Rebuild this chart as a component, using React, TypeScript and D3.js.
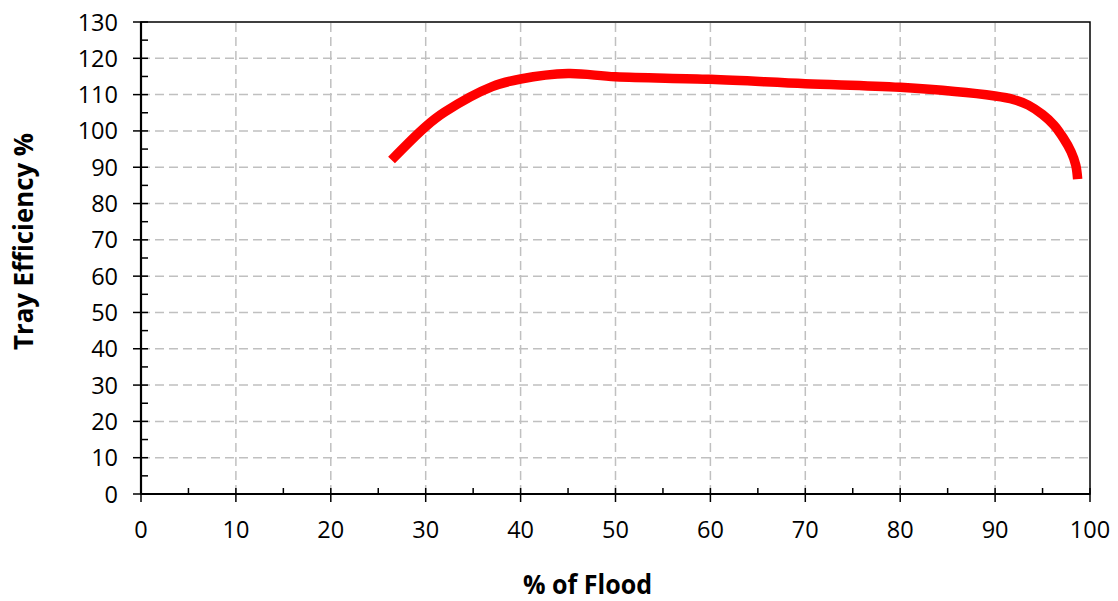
import React from 'react';
import * as d3 from 'd3';

// values
const floodPct = [26.4, 30, 32, 37, 40, 45, 50, 60, 70, 80, 90, 92, 93.5, 95, 96.2, 97.2, 98, 98.5, 98.7];
const trayEff = [92.0, 101.2, 105.2, 112.2, 114.3, 115.8, 114.9, 114.2, 113.0, 112.0, 109.6, 108.6, 107.1, 104.5, 101.6, 98.0, 94.3, 90.6, 86.7];

const xTicks = [0, 10, 20, 30, 40, 50, 60, 70, 80, 90, 100];
const yTicks = [0, 10, 20, 30, 40, 50, 60, 70, 80, 90, 100, 110, 120, 130];

const W = 1118;
const H = 601;
const margin = { top: 22, right: 28, bottom: 107, left: 141 };

const App: React.FC = () => {
  const x = d3.scaleLinear().domain([0, 100]).range([margin.left, W - margin.right]);
  const y = d3.scaleLinear().domain([0, 130]).range([H - margin.bottom, margin.top]);

  const x0 = x(0), x1 = x(100), y0 = y(0), y1 = y(130);

  const pts = floodPct.map((f, i) => [f, trayEff[i]] as [number, number]);
  const line = d3.line<[number, number]>()
    .x(d => x(d[0]))
    .y(d => y(d[1]))
    .curve(d3.curveCatmullRom.alpha(0.5));

  // minor ticks halfway between majors
  const xMinor = xTicks.slice(0, -1).map(t => t + 5);
  const yMinor = yTicks.slice(0, -1).map(t => t + 5);

  const tickFont = { fontFamily: '"Open Sans", sans-serif', fontSize: 23.5, fill: '#000' };
  const titleFont = { fontFamily: '"Open Sans", sans-serif', fontSize: 26, fontWeight: 700, fill: '#000' };

  return (
    <svg width={W} height={H} style={{ position: 'absolute', left: 0, top: 0, background: '#fff' }}>
      {/* grid */}
      <g stroke="#c0c0c0" strokeWidth={1.5} strokeDasharray="9,5">
        {xTicks.filter(t => t > 0 && t < 100).map(t => (
          <line key={'gx' + t} x1={x(t)} x2={x(t)} y1={y0} y2={y1} />
        ))}
        {yTicks.filter(t => t > 0 && t < 130).map(t => (
          <line key={'gy' + t} x1={x0} x2={x1} y1={y(t)} y2={y(t)} />
        ))}
      </g>

      {/* frame */}
      <rect x={x0} y={y1} width={x1 - x0} height={y0 - y1} fill="none" stroke="#000" strokeWidth={1.5} />

      {/* series */}
      <path d={line(pts) || ''} fill="none" stroke="#ff0000" strokeWidth={9.5} strokeLinecap="butt" strokeLinejoin="round" />

      {/* y axis */}
      <line x1={x0} x2={x0} y1={y0} y2={y1} stroke="#000" strokeWidth={2.2} />
      {yTicks.map(t => (
        <g key={'yt' + t}>
          <line x1={x0 - 8} x2={x0 + 7} y1={y(t)} y2={y(t)} stroke="#000" strokeWidth={1.5} />
          <text x={x0 - 23} y={y(t) + 8.5} textAnchor="end" {...tickFont}>{t}</text>
        </g>
      ))}
      {yMinor.map(t => (
        <line key={'ym' + t} x1={x0} x2={x0 + 7} y1={y(t)} y2={y(t)} stroke="#000" strokeWidth={1.5} />
      ))}

      {/* x axis */}
      <line x1={x0} x2={x1} y1={y0} y2={y0} stroke="#000" strokeWidth={2.2} />
      {xTicks.map(t => (
        <g key={'xt' + t}>
          <line x1={x(t)} x2={x(t)} y1={y0 - 6} y2={y0 + 8} stroke="#000" strokeWidth={1.5} />
          <text x={x(t)} y={y0 + 44} textAnchor="middle" {...tickFont}>{t}</text>
        </g>
      ))}
      {xMinor.map(t => (
        <line key={'xm' + t} x1={x(t)} x2={x(t)} y1={y0 - 6} y2={y0} stroke="#000" strokeWidth={1.5} />
      ))}

      {/* titles */}
      <text x={587.5} y={593.5} textAnchor="middle" textLength={129} lengthAdjust="spacingAndGlyphs" {...titleFont}>
        % of Flood
      </text>
      <text
        transform={`translate(33,241.5) rotate(-90)`}
        textAnchor="middle"
        textLength={217}
        lengthAdjust="spacingAndGlyphs"
        {...titleFont}
      >
        Tray Efficiency %
      </text>
    </svg>
  );
};

export default App;
